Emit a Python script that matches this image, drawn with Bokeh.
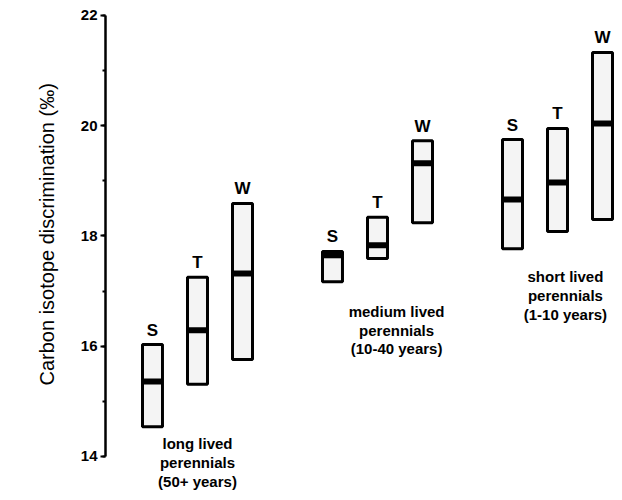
from bokeh.plotting import figure
from bokeh.models import ColumnDataSource, SingleIntervalTicker, Range1d, Title
from bokeh.core.properties import value
from bokeh.embed import file_html
from bokeh.resources import INLINE

# ---- data ----
group_labels = ["long lived\nperennials\n(50+ years)",
                "medium lived\nperennials\n(10-40 years)",
                "short lived\nperennials\n(1-10 years)"]
habitats = ["S", "T", "W"]
# per group: S, T, W
low = [[14.54, 15.31, 15.76],
       [17.17, 17.59, 18.24],
       [17.77, 18.08, 18.30]]
high = [[16.03, 17.25, 18.59],
        [17.72, 18.34, 19.73],
        [19.75, 19.95, 21.33]]
median = [[15.36, 16.29, 17.32],
          [17.65, 17.83, 19.32],
          [18.66, 18.97, 20.04]]
y_ticks_interval = 2
y_axis_title = "Carbon isotope discrimination (‰)"

# ---- layout constants ----
OFFSET = 0.25
BOX_W = 0.111
label_pos_x = [0.0, 1.106, 2.044]
label_pos_y = [13.89, 16.29, 16.92]

xs, lo, hi, med, lab = [], [], [], [], []
for g in range(len(group_labels)):
    for k, h in enumerate(habitats):
        xs.append(g + OFFSET * (k - 1))
        lo.append(low[g][k])
        hi.append(high[g][k])
        med.append(median[g][k])
        lab.append(h)

src = ColumnDataSource(dict(x=xs, low=lo, high=hi, median=med, label=lab))
lsrc = ColumnDataSource(dict(x=label_pos_x, y=label_pos_y, text=group_labels))

p = figure(width=620, height=498, output_backend="svg", toolbar_location=None,
           x_range=Range1d(-0.511, 2.35), y_range=Range1d(13.238, 22.018),
           min_border_left=105, min_border_right=0, min_border_top=14, min_border_bottom=0)
p.xaxis.visible = False
p.xgrid.visible = False
p.ygrid.visible = False
p.outline_line_color = None
p.background_fill_color = "white"
p.border_fill_color = "white"

ax = p.yaxis[0]
ax.bounds = (14, 22)
ax.ticker = SingleIntervalTicker(interval=y_ticks_interval, num_minor_ticks=2)
ax.axis_line_width = 2.5
ax.major_tick_line_width = 2
ax.major_tick_in = 0
ax.major_tick_out = 5
ax.minor_tick_in = 0
ax.minor_tick_out = 3
ax.minor_tick_line_width = 2
ax.major_label_standoff = 3
ax.major_label_text_font = "Liberation Sans"
ax.major_label_text_font_style = "bold"
ax.major_label_text_font_size = "15px"
ax.major_label_text_color = "black"

p.add_layout(Title(text=y_axis_title, align="left", offset=113, standoff=40,
                   text_font="Liberation Sans", text_font_size="20px",
                   text_font_style="normal", text_color="black"), "left")

p.vbar(x="x", bottom="low", top="high", width=BOX_W, source=src,
       fill_color="#f4f4f4", line_color="black", line_width=3)
p.rect(x="x", y="median", width=BOX_W, height=6, height_units="screen",
       source=src, fill_color="black", line_color=None)
p.text(x="x", y="high", text="label", source=src, text_align="center",
       text_baseline="bottom", y_offset=-5, text_font=value("Liberation Sans"),
       text_font_style="bold", text_font_size="17px", text_color="black")
p.text(x="x", y="y", text="text", source=lsrc, text_align="center",
       text_baseline="middle", text_font=value("Liberation Sans"),
       text_font_style="bold", text_font_size="15px", text_line_height=1.1,
       text_color="black")

open("out.html", "w").write(file_html(p, INLINE))
